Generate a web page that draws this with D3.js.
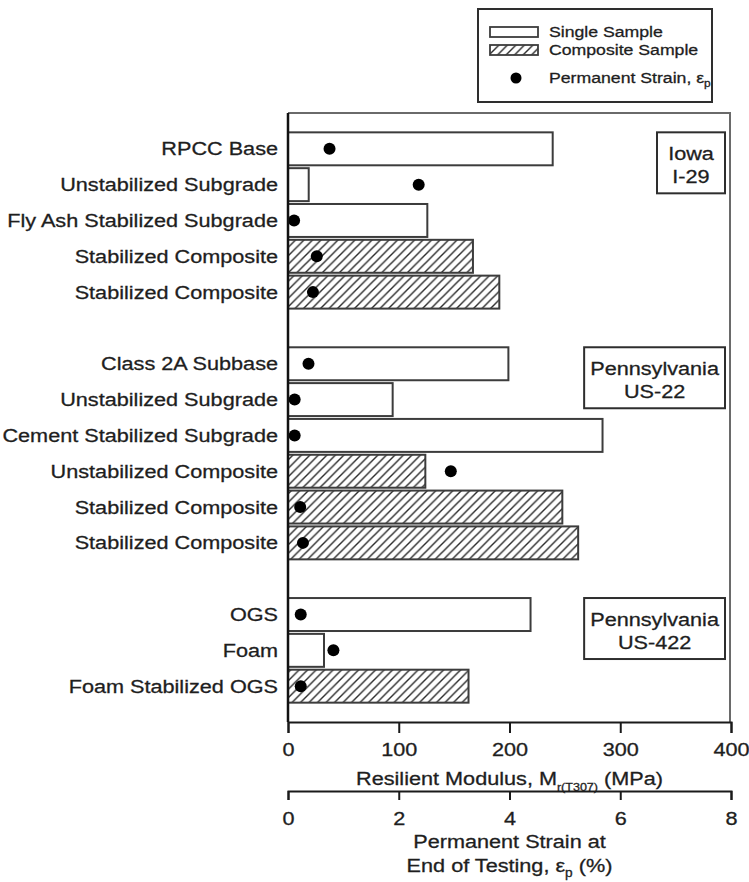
<!DOCTYPE html>
<html>
<head>
<meta charset="utf-8">
<script src="https://cdn.jsdelivr.net/npm/d3@7"></script>
<style>
  html, body { margin: 0; padding: 0; background: #fff; }
  svg { display: block; }
  text { font-family: "Liberation Sans", Arial, Helvetica, sans-serif; fill: #1e1e1e; stroke: #1e1e1e; stroke-width: 0.3px; }
</style>
</head>
<body>
<svg id="chart" width="749" height="882"></svg>
<script>
// Test sites (two-line captions) in top-to-bottom order
const siteLine1 = ["Iowa", "Pennsylvania", "Pennsylvania"];
const siteLine2 = ["I-29", "US-22", "US-422"];

// One entry per tested material, top to bottom
const materials = [
  "RPCC Base", "Unstabilized Subgrade", "Fly Ash Stabilized Subgrade",
  "Stabilized Composite", "Stabilized Composite",
  "Class 2A Subbase", "Unstabilized Subgrade", "Cement Stabilized Subgrade",
  "Unstabilized Composite", "Stabilized Composite", "Stabilized Composite",
  "OGS", "Foam", "Foam Stabilized OGS"
];
const siteOf = [0, 0, 0, 0, 0, 1, 1, 1, 1, 1, 1, 2, 2, 2];
const sampleType = [
  "single", "single", "single", "composite", "composite",
  "single", "single", "single", "composite", "composite", "composite",
  "single", "single", "composite"
];
// Resilient modulus Mr(T307), MPa
const modulus = [239, 18.7, 125.8, 167, 190.8, 199, 94.5, 284, 124, 247.7, 262, 219, 32.5, 163];
// Permanent strain at end of testing, %
const strain = [0.75, 2.36, 0.11, 0.52, 0.45, 0.37, 0.12, 0.12, 2.94, 0.22, 0.27, 0.23, 0.82, 0.23];

const modulusTicks = [0, 100, 200, 300, 400];
const strainTicks = [0, 2, 4, 6, 8];

const legendLabels = ["Single Sample", "Composite Sample", "Permanent Strain, "];

// ---- layout ----
const plot = { left: 288, right: 731, top: 113, bottom: 722 };
const SX = 1.14;               // horizontal stretch applied to all lettering
const FS = 19;                 // main font size

const svg = d3.select("#chart");

// Row keys: one per material plus an empty slot between sites
const rowKeys = [];
materials.forEach((m, i) => {
  if (i > 0 && siteOf[i] !== siteOf[i - 1]) rowKeys.push("gap" + i);
  rowKeys.push("row" + i);
});

const y = d3.scalePoint().domain(rowKeys).range([plot.top, plot.bottom]).padding(1);
const barH = y.step() * 0.92;
const xMod = d3.scaleLinear().domain([0, 400]).range([plot.left, plot.right]);
const xStr = d3.scaleLinear().domain([0, 8]).range([plot.left, plot.right]);

// Hatch for composite samples
const defs = svg.append("defs");
const pat = defs.append("pattern")
  .attr("id", "hatch").attr("patternUnits", "userSpaceOnUse")
  .attr("width", 8.5).attr("height", 8.5);
pat.append("rect").attr("width", 8.5).attr("height", 8.5).attr("fill", "#fff");
pat.append("path")
  .attr("d", "M-2,2 L2,-2 M0,8.5 L8.5,0 M6.5,10.5 L10.5,6.5")
  .attr("stroke", "#2a2a2a").attr("stroke-width", 1.4);

function stretch(sel, x, yy) {
  sel.attr("x", 0).attr("y", 0)
    .attr("transform", `translate(${x},${yy}) scale(${SX},1)`);
  return sel;
}

// ---- frame ----
svg.append("path")
  .attr("d", `M${plot.left},${plot.top} H${plot.right - 1} V${plot.bottom}`)
  .attr("fill", "none").attr("stroke", "#6a6a6a").attr("stroke-width", 2);

// ---- bars ----
const rows = materials.map((m, i) => ({
  key: "row" + i, label: m, type: sampleType[i], mod: modulus[i], eps: strain[i]
}));

svg.append("g").selectAll("rect").data(rows).join("rect")
  .attr("x", xMod(0))
  .attr("y", d => y(d.key) - barH / 2)
  .attr("width", d => xMod(d.mod) - xMod(0))
  .attr("height", barH)
  .attr("fill", d => d.type === "composite" ? "url(#hatch)" : "#fff")
  .attr("stroke", "#3c3c3c").attr("stroke-width", 2);

// ---- strain dots ----
svg.append("g").selectAll("circle").data(rows).join("circle")
  .attr("cx", d => xStr(d.eps))
  .attr("cy", d => y(d.key))
  .attr("r", 6)
  .attr("fill", "#000");

// ---- category labels ----
svg.append("g").selectAll("text").data(rows).join("text")
  .attr("text-anchor", "end")
  .attr("font-size", FS)
  .attr("dominant-baseline", "central")
  .each(function (d) { stretch(d3.select(this), 278, y(d.key)); })
  .text(d => d.label);

// ---- left axis line ----
svg.append("line")
  .attr("x1", plot.left).attr("x2", plot.left)
  .attr("y1", plot.top).attr("y2", plot.bottom)
  .attr("stroke", "#111").attr("stroke-width", 2.5);

// ---- site captions ----
siteLine1.forEach((l1, s) => {
  const first = siteOf.indexOf(s);
  const cy = y("row" + first) + 14;
  const g = svg.append("g");
  const t1 = g.append("text").attr("text-anchor", "middle").attr("font-size", FS).text(l1);
  const t2 = g.append("text").attr("text-anchor", "middle").attr("font-size", FS).text(siteLine2[s]);
  const w = Math.max(t1.node().getComputedTextLength(), t2.node().getComputedTextLength()) * SX;
  const bw = Math.max(w + 12, 68), bh = 61;
  const bx = 725 - bw, by = cy - bh / 2;
  g.insert("rect", "text")
    .attr("x", bx).attr("y", by).attr("width", bw).attr("height", bh)
    .attr("fill", "#fff").attr("stroke", "#2e2e2e").attr("stroke-width", 2);
  stretch(t1, bx + bw / 2, cy - 3);
  stretch(t2, bx + bw / 2, cy + 20);
});

// ---- modulus axis ----
const axMod = svg.append("g")
  .attr("transform", `translate(0,${plot.bottom})`)
  .call(d3.axisBottom(xMod).tickValues(modulusTicks).tickSize(11).tickPadding(10).tickFormat(d3.format("d")));
axMod.select(".domain").attr("stroke", "#1a1a1a").attr("stroke-width", 2);
axMod.selectAll(".tick line").attr("stroke", "#1a1a1a").attr("stroke-width", 2);
axMod.selectAll(".tick text")
  .attr("font-size", FS).attr("font-family", null).attr("fill", "#1e1e1e")
  .attr("transform", `scale(${SX},1)`);

const t307 = svg.append("text").attr("text-anchor", "middle").attr("font-size", FS);
t307.append("tspan").text("Resilient Modulus, M");
t307.append("tspan").attr("font-size", 11).attr("dy", 6).text("r(T307)");
t307.append("tspan").attr("dy", -6).text(" (MPa)");
stretch(t307, xMod(200), 785);

// ---- strain axis ----
const axStr = svg.append("g")
  .attr("transform", "translate(0,791)")
  .call(d3.axisBottom(xStr).tickValues(strainTicks).tickSize(9).tickPadding(12).tickFormat(d3.format("d")));
axStr.select(".domain").attr("stroke", "#1a1a1a").attr("stroke-width", 2);
axStr.selectAll(".tick line").attr("stroke", "#1a1a1a").attr("stroke-width", 2);
axStr.selectAll(".tick text")
  .attr("font-size", FS).attr("font-family", null).attr("fill", "#1e1e1e")
  .attr("transform", `scale(${SX},1)`);

const st1 = svg.append("text").attr("text-anchor", "middle").attr("font-size", FS).text("Permanent Strain at");
stretch(st1, xStr(4), 848);
const st2 = svg.append("text").attr("text-anchor", "middle").attr("font-size", FS);
st2.append("tspan").text("End of Testing, ε");
st2.append("tspan").attr("font-size", 12).attr("dy", 5).text("p");
st2.append("tspan").attr("dy", -5).text(" (%)");
stretch(st2, xStr(4), 872);

// ---- legend ----
const lg = svg.append("g");
lg.append("rect").attr("x", 478).attr("y", 9).attr("width", 234).attr("height", 93)
  .attr("fill", "#fff").attr("stroke", "#2e2e2e").attr("stroke-width", 2);
lg.append("rect").attr("x", 490).attr("y", 27).attr("width", 48).attr("height", 10)
  .attr("fill", "#fff").attr("stroke", "#3c3c3c").attr("stroke-width", 1.8);
lg.append("rect").attr("x", 490).attr("y", 45).attr("width", 48).attr("height", 10)
  .attr("fill", "url(#hatch)").attr("stroke", "#3c3c3c").attr("stroke-width", 1.8);
lg.append("circle").attr("cx", 516).attr("cy", 78).attr("r", 5.5).attr("fill", "#000");
const lgBase = [37, 55, 83];
legendLabels.forEach((t, i) => {
  const tx = lg.append("text").attr("font-size", 15.5);
  tx.append("tspan").text(t);
  if (i === 2) {
    tx.append("tspan").text("ε");
    tx.append("tspan").attr("font-size", 10.5).attr("dy", 4).text("p");
  }
  stretch(tx, 549, lgBase[i]);
});
</script>
</body>
</html>
